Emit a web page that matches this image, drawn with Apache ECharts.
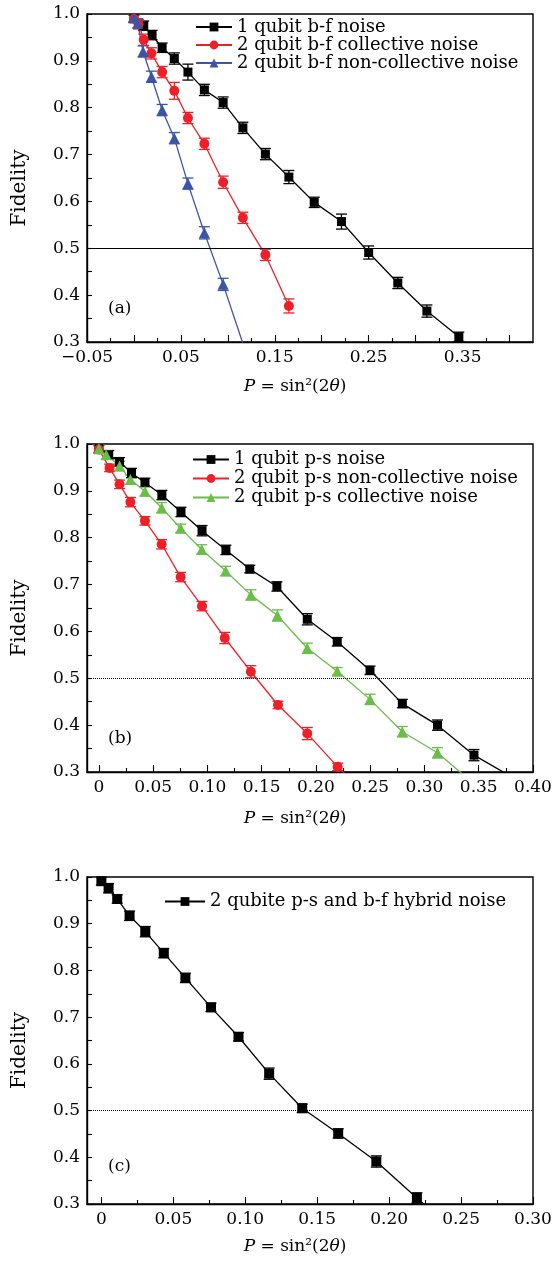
<!DOCTYPE html>
<html><head><meta charset="utf-8">
<script src="https://cdn.jsdelivr.net/npm/echarts@6/dist/echarts.min.js"></script>
<style>html,body{margin:0;padding:0;background:#fff}#c{width:557px;height:1261px}</style>
</head><body><div id="c"></div>
<script>
// ---------- Panel (a): bit-flip noise ----------
const a1Name = '1 qubit b-f noise';
const a1X = [0, 0.0104, 0.0193, 0.030, 0.043, 0.0575, 0.075, 0.095, 0.116, 0.140, 0.165, 0.192, 0.221, 0.250, 0.281, 0.312, 0.346];
const a1Y = [0.99, 0.975, 0.955, 0.928, 0.905, 0.876, 0.838, 0.811, 0.757, 0.701, 0.652, 0.598, 0.557, 0.491, 0.426, 0.366, 0.311];
const a1E = [0.008, 0.010, 0.010, 0.010, 0.012, 0.017, 0.012, 0.012, 0.012, 0.012, 0.014, 0.011, 0.016, 0.014, 0.012, 0.013, 0.010];

const a2Name = '2 qubit b-f collective noise';
const a2X = [0, 0.005, 0.0104, 0.0186, 0.030, 0.043, 0.0575, 0.075, 0.095, 0.116, 0.140, 0.165];
const a2Y = [0.99, 0.978, 0.945, 0.916, 0.876, 0.836, 0.778, 0.723, 0.641, 0.565, 0.486, 0.377];
const a2E = [0.008, 0.010, 0.012, 0.012, 0.012, 0.018, 0.012, 0.012, 0.013, 0.012, 0.012, 0.015];

const a3Name = '2 qubit b-f non-collective noise';
const a3X = [0, 0.004, 0.0097, 0.0186, 0.030, 0.043, 0.0575, 0.075, 0.095, 0.116];
const a3Y = [0.992, 0.98, 0.92, 0.866, 0.795, 0.735, 0.638, 0.533, 0.423, 0.297];
const a3E = [0.008, 0.010, 0.012, 0.012, 0.012, 0.012, 0.012, 0.013, 0.013, 0];

// ---------- Panel (b): phase-shift noise ----------
const b1Name = '1 qubit p-s noise';
const b1X = [0, 0.009, 0.019, 0.030, 0.0424, 0.058, 0.0756, 0.095, 0.117, 0.139, 0.164, 0.192, 0.2196, 0.2498, 0.2796, 0.312, 0.3456, 0.38];
const b1Y = [0.99, 0.977, 0.962, 0.938, 0.918, 0.891, 0.855, 0.815, 0.774, 0.733, 0.696, 0.626, 0.578, 0.517, 0.446, 0.400, 0.336, 0.29];
const b1E = [0.008, 0.009, 0.009, 0.010, 0.009, 0.010, 0.010, 0.011, 0.010, 0.008, 0.010, 0.012, 0.009, 0.009, 0.009, 0.011, 0.012, 0];

const b2Name = '2 qubit p-s non-collective noise';
const b2X = [0, 0.0098, 0.019, 0.029, 0.0424, 0.0578, 0.0753, 0.095, 0.116, 0.140, 0.165, 0.192, 0.220, 0.250];
const b2Y = [0.988, 0.949, 0.914, 0.876, 0.836, 0.786, 0.716, 0.654, 0.586, 0.514, 0.443, 0.382, 0.311, 0.245];
const b2E = [0.008, 0.008, 0.009, 0.010, 0.009, 0.010, 0.010, 0.010, 0.012, 0.013, 0.008, 0.013, 0.008, 0];

const b3Name = '2 qubit p-s collective noise';
const b3X = [0, 0.0067, 0.019, 0.029, 0.0424, 0.0578, 0.0753, 0.0947, 0.1168, 0.140, 0.1645, 0.192, 0.2196, 0.2498, 0.2796, 0.312, 0.3456];
const b3Y = [0.99, 0.977, 0.953, 0.924, 0.899, 0.864, 0.820, 0.775, 0.729, 0.678, 0.634, 0.564, 0.515, 0.455, 0.386, 0.341, 0.275];
const b3E = [0.008, 0.009, 0.010, 0.010, 0.010, 0.011, 0.009, 0.010, 0.010, 0.011, 0.012, 0.011, 0.008, 0.011, 0.011, 0.011, 0];

// ---------- Panel (c): hybrid noise ----------
const c1Name = '2 qubite p-s and b-f hybrid noise';
const c1X = [0, 0.005, 0.011, 0.0196, 0.0305, 0.0434, 0.0584, 0.0762, 0.0953, 0.1166, 0.1396, 0.1646, 0.1911, 0.2193, 0.25];
const c1Y = [0.991, 0.976, 0.953, 0.917, 0.883, 0.837, 0.784, 0.721, 0.658, 0.579, 0.505, 0.451, 0.391, 0.313, 0.23];
const c1E = [0.008, 0.010, 0.009, 0.010, 0.011, 0.010, 0.010, 0.009, 0.009, 0.012, 0.009, 0.010, 0.012, 0.011, 0];

// ---------- Tick labels ----------
const aTickVals = [-0.05, 0, 0.05, 0.10, 0.15, 0.20, 0.25, 0.30, 0.35, 0.40];
const aMinorVals = [-0.025, 0.025, 0.075, 0.125, 0.175, 0.225, 0.275, 0.325, 0.375];
const aLabelVals = [-0.05, 0.05, 0.15, 0.25, 0.35];
const aLabels = ['\u22120.05', '0.05', '0.15', '0.25', '0.35'];

const bTickVals = [0, 0.05, 0.10, 0.15, 0.20, 0.25, 0.30, 0.35, 0.40];
const bMinorVals = [0.025, 0.075, 0.125, 0.175, 0.225, 0.275, 0.325, 0.375];
const bLabels = ['0', '0.05', '0.10', '0.15', '0.20', '0.25', '0.30', '0.35', '0.40'];

const cTickVals = [0, 0.05, 0.10, 0.15, 0.20, 0.25, 0.30];
const cMinorVals = [0.025, 0.075, 0.125, 0.175, 0.225, 0.275];
const cLabels = ['0', '0.05', '0.10', '0.15', '0.20', '0.25', '0.30'];

const yLabelDigits = 1;
const xName = '{i|P} = sin\u00b2(2{i|\u03b8})';
const yName = 'Fidelity';

// ---------- Styling ----------
const FONT = 'DejaVu Serif';
const BLACK = '#000000', RED = '#ee2027', BLUE = '#3b54a5', GREEN = '#69bd48';

const grids = [
  {left: 87, top: 14, width: 446, height: 328},
  {left: 87, top: 444, width: 446, height: 328},
  {left: 87, top: 877, width: 446, height: 327}
].map(g => Object.assign(g, {show: true, borderColor: '#000', borderWidth: 1.4, backgroundColor: 'transparent'}));

function labelFmt(vals, labels) {
  return function (v) {
    for (let i = 0; i < vals.length; i++) if (Math.abs(vals[i] - v) < 1e-6) return labels[i];
    return '';
  };
}

function xMain(gi, min, max, ticks, lvals, labels, gap) {
  return {
    type: 'value', gridIndex: gi, min: min, max: max, position: 'bottom',
    axisLine: {show: true, onZero: false, lineStyle: {color: '#000', width: 1.4}},
    axisTick: {show: true, inside: true, length: 7, customValues: ticks, lineStyle: {color: '#000', width: 1.1}},
    axisLabel: {show: true, customValues: lvals, formatter: labelFmt(lvals, labels), margin: 7,
      color: '#000', fontFamily: FONT, fontSize: 17},
    splitLine: {show: false},
    name: xName, nameLocation: 'middle', nameGap: gap,
    nameTextStyle: {color: '#000', fontFamily: FONT, fontSize: 17, padding: [0, 30, 0, 0],
      rich: {i: {fontStyle: 'italic', fontFamily: FONT, fontSize: 17, color: '#000'}}}
  };
}
function xMinor(gi, min, max, ticks) {
  return {
    type: 'value', gridIndex: gi, min: min, max: max, position: 'bottom',
    axisLine: {show: false},
    axisTick: {show: true, inside: true, length: 4, customValues: ticks, lineStyle: {color: '#000', width: 1.1}},
    axisLabel: {show: false}, splitLine: {show: false}
  };
}
function yAx(gi) {
  return {
    type: 'value', gridIndex: gi, min: 0.3, max: 1.0, interval: 0.1,
    axisLine: {show: true, onZero: false, lineStyle: {color: '#000', width: 1.4}},
    axisTick: {show: true, inside: true, length: 5, lineStyle: {color: '#000', width: 1.1}},
    minorTick: {show: true, splitNumber: 2, length: 5, lineStyle: {color: '#000', width: 1.1}},
    axisLabel: {formatter: v => v.toFixed(yLabelDigits), margin: 7, color: '#000', fontFamily: FONT, fontSize: 17},
    splitLine: {show: false}, minorSplitLine: {show: false},
    name: yName, nameLocation: 'middle', nameGap: 57, nameRotate: 90,
    nameTextStyle: {color: '#000', fontFamily: FONT, fontSize: 20, padding: [0, 20, 0, 0]}
  };
}

function zip(xs, ys) { return xs.map((x, i) => [x, ys[i]]); }
function zip3(xs, ys, es) { return xs.map((x, i) => [x, ys[i], es[i]]); }

function lineSeries(name, xi, yi, xs, ys, color, symbol, size, refLine) {
  const s = {
    type: 'line', name: name, xAxisIndex: xi, yAxisIndex: yi, data: zip(xs, ys),
    symbol: symbol, symbolSize: size, showSymbol: true, clip: true,
    itemStyle: {color: color, opacity: 1}, lineStyle: {color: color, width: 1.3},
    z: 4, animation: false, silent: true
  };
  if (refLine) {
    s.markLine = {silent: true, symbol: ['none', 'none'], label: {show: false}, animation: false,
      lineStyle: {color: '#000', width: 1, type: refLine}, data: [{yAxis: 0.5}]};
  }
  return s;
}
function errSeries(xi, yi, xs, ys, es, color) {
  return {
    type: 'custom', xAxisIndex: xi, yAxisIndex: yi, data: zip3(xs, ys, es), clip: true, z: 3,
    silent: true, animation: false,
    renderItem: function (params, api) {
      const x = api.value(0), y = api.value(1), e = api.value(2);
      if (!e) return null;
      const t = api.coord([x, y + e]), b = api.coord([x, y - e]);
      const hw = 5.5;
      const st = {stroke: color, lineWidth: 1.3};
      return {type: 'group', children: [
        {type: 'line', shape: {x1: t[0], y1: t[1], x2: b[0], y2: b[1]}, style: st},
        {type: 'line', shape: {x1: t[0] - hw, y1: t[1], x2: t[0] + hw, y2: t[1]}, style: st},
        {type: 'line', shape: {x1: b[0] - hw, y1: b[1], x2: b[0] + hw, y2: b[1]}, style: st}
      ]};
    }
  };
}

function legend(names, left, top, lh, iw) {
  return {data: names, orient: 'vertical', left: left, top: top, itemGap: 0, itemWidth: iw, itemHeight: 11,
    padding: 0, selectedMode: false,
    textStyle: {color: '#000', fontFamily: FONT, fontSize: 18, lineHeight: lh}};
}

const titleStyle = {color: '#000', fontFamily: FONT, fontSize: 17, fontWeight: 'normal'};

const option = {
  animation: false,
  backgroundColor: '#fff',
  grid: grids,
  title: [
    {text: '(a)', left: 108, top: 300, padding: 0, textStyle: titleStyle},
    {text: '(b)', left: 108, top: 730, padding: 0, textStyle: titleStyle},
    {text: '(c)', left: 108, top: 1158, padding: 0, textStyle: titleStyle}
  ],
  legend: [
    legend([a1Name, a2Name, a3Name], 195, 18, 16.5, 36),
    legend([b1Name, b2Name, b3Name], 192, 450, 19, 36),
    legend([c1Name], 164, 892, 19, 40)
  ],
  xAxis: [
    xMain(0, -0.05, 0.425, aTickVals, aLabelVals, aLabels, 36),
    xMinor(0, -0.05, 0.425, aMinorVals),
    xMain(1, -0.011, 0.40, bTickVals, bTickVals, bLabels, 38),
    xMinor(1, -0.011, 0.40, bMinorVals),
    xMain(2, -0.01, 0.30, cTickVals, cTickVals, cLabels, 34),
    xMinor(2, -0.01, 0.30, cMinorVals)
  ],
  yAxis: [yAx(0), yAx(1), yAx(2)],
  series: [
    errSeries(0, 0, a1X, a1Y, a1E, BLACK),
    errSeries(0, 0, a2X, a2Y, a2E, RED),
    errSeries(0, 0, a3X, a3Y, a3E, BLUE),
    lineSeries(a1Name, 0, 0, a1X, a1Y, BLACK, 'rect', 9, 'solid'),
    lineSeries(a2Name, 0, 0, a2X, a2Y, RED, 'circle', 10),
    lineSeries(a3Name, 0, 0, a3X, a3Y, BLUE, 'triangle', 11),

    errSeries(2, 1, b1X, b1Y, b1E, BLACK),
    errSeries(2, 1, b2X, b2Y, b2E, RED),
    errSeries(2, 1, b3X, b3Y, b3E, GREEN),
    lineSeries(b1Name, 2, 1, b1X, b1Y, BLACK, 'rect', 9, 'dotted'),
    lineSeries(b2Name, 2, 1, b2X, b2Y, RED, 'circle', 10),
    lineSeries(b3Name, 2, 1, b3X, b3Y, GREEN, 'triangle', 11),

    errSeries(4, 2, c1X, c1Y, c1E, BLACK),
    lineSeries(c1Name, 4, 2, c1X, c1Y, BLACK, 'rect', 10, 'dotted')
  ]
};

const chart = echarts.init(document.getElementById('c'), null, {renderer: 'canvas'});
chart.setOption(option);
</script></body></html>
